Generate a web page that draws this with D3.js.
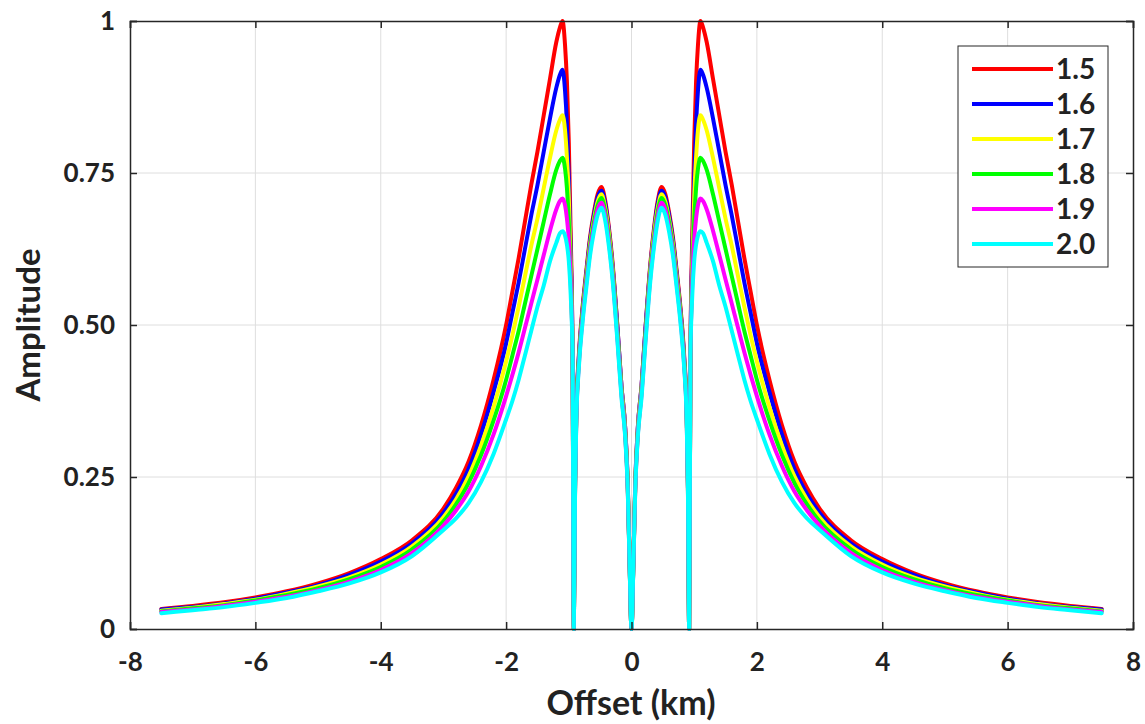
<!DOCTYPE html>
<html><head><meta charset="utf-8">
<script src="https://cdn.jsdelivr.net/npm/d3@7"></script>
<style>
html,body{margin:0;padding:0;background:#fff;}
svg text{font-family:Lato,"Open Sans",sans-serif;font-weight:bold;fill:#222;}
</style></head>
<body><svg id="chart" width="1145" height="724"></svg>
<script>
// ---- data (curves are symmetric about offset 0) ----
const seriesNames = ["1.5","1.6","1.7","1.8","1.9","2.0"];
const seriesColors = ["#ff0000","#0000ff","#ffff00","#00ff00","#ff00ff","#00ffff"];
const xTicks = [-8,-6,-4,-2,0,2,4,6,8];
const xTickLabels = ["-8","-6","-4","-2","0","2","4","6","8"];
const yTicks = [0,0.25,0.5,0.75,1];
const yTickLabels = ["0","0.25","0.50","0.75","1"];
// offsets (km) for the positive half
const offsetsHalf = [0,0.03,0.06,0.1,0.16,0.22,0.3,0.36,0.42,0.48,0.54,0.6,0.66,0.72,0.78,0.84,0.88,0.9,0.92,
  0.94,0.97,1.0,1.03,1.06,1.1,1.14,1.2,1.3,1.4,1.5,1.6,1.7,1.8,1.9,2.0,2.2,2.4,2.6,2.8,3.0,3.5,4.0,4.5,5.0,5.5,6.0,6.5,7.0,7.5];
const amp15 = [0,0.11,0.24,0.33,0.40,0.49,0.60,0.66,0.705,0.727,0.715,0.685,0.645,0.59,0.53,0.45,0.36,0.24,0,
  0.45,0.65,0.8,0.9,0.96,1.0,0.99,0.965,0.905,0.845,0.785,0.73,0.67,0.61,0.555,0.5,0.41,0.335,0.275,0.232,0.198,0.146,0.115,0.092,0.075,0.062,0.052,0.044,0.038,0.033];
const amp16 = [0,0.11,0.24,0.33,0.40,0.49,0.595,0.655,0.70,0.721,0.71,0.68,0.64,0.585,0.525,0.445,0.355,0.24,0,
  0.45,0.62,0.74,0.83,0.885,0.92,0.912,0.89,0.84,0.785,0.73,0.68,0.625,0.57,0.52,0.47,0.39,0.32,0.263,0.222,0.191,0.141,0.111,0.089,0.072,0.06,0.05,0.042,0.036,0.032];
const amp17 = [0,0.11,0.235,0.325,0.395,0.48,0.59,0.65,0.693,0.715,0.703,0.673,0.634,0.58,0.52,0.44,0.355,0.235,0,
  0.45,0.6,0.71,0.775,0.82,0.845,0.838,0.82,0.775,0.725,0.675,0.63,0.58,0.53,0.483,0.44,0.365,0.302,0.251,0.213,0.184,0.136,0.106,0.085,0.07,0.058,0.048,0.041,0.035,0.030];
const amp18 = [0,0.105,0.235,0.32,0.39,0.478,0.585,0.643,0.687,0.709,0.697,0.668,0.629,0.575,0.517,0.44,0.35,0.235,0,
  0.45,0.58,0.67,0.725,0.757,0.775,0.77,0.755,0.715,0.67,0.625,0.58,0.535,0.49,0.45,0.41,0.343,0.286,0.24,0.205,0.177,0.131,0.102,0.082,0.067,0.056,0.047,0.039,0.034,0.029];
const amp19 = [0,0.105,0.23,0.318,0.386,0.472,0.578,0.636,0.68,0.701,0.69,0.66,0.622,0.569,0.511,0.434,0.347,0.23,0,
  0.45,0.57,0.64,0.675,0.697,0.708,0.704,0.69,0.655,0.615,0.575,0.535,0.495,0.455,0.418,0.383,0.32,0.268,0.226,0.195,0.170,0.125,0.097,0.078,0.064,0.053,0.045,0.038,0.032,0.028];
const amp20 = [0,0.105,0.23,0.315,0.38,0.467,0.572,0.629,0.672,0.693,0.681,0.653,0.615,0.562,0.505,0.43,0.343,0.23,0,
  0.45,0.55,0.605,0.632,0.647,0.654,0.651,0.635,0.605,0.565,0.53,0.49,0.45,0.41,0.375,0.345,0.288,0.242,0.207,0.182,0.163,0.12,0.093,0.075,0.062,0.051,0.043,0.036,0.031,0.026];
const seriesValues = [amp15,amp16,amp17,amp18,amp19,amp20];

// ---- layout ----
const L=130,R=1133,T=21,B=629;
const svg=d3.select("#chart");
const x=d3.scaleLinear().domain([-8,8]).range([L,R]);
const y=d3.scaleLinear().domain([0,1]).range([B,T]);

// grid
const g=svg.append("g");
g.selectAll(".vg").data(xTicks.slice(1,-1)).enter().append("line")
 .attr("x1",d=>x(d)).attr("x2",d=>x(d)).attr("y1",T).attr("y2",B)
 .attr("stroke","#dedede").attr("stroke-width",1);
g.selectAll(".hg").data(yTicks.slice(1,-1)).enter().append("line")
 .attr("y1",d=>y(d)).attr("y2",d=>y(d)).attr("x1",L).attr("x2",R)
 .attr("stroke","#dedede").attr("stroke-width",1);

// curves (the half data mirrored to both sides)
function fullSeries(vals){
  const pts=[];
  for(let i=offsetsHalf.length-1;i>0;i--) pts.push([-offsetsHalf[i],vals[i]]);
  for(let i=0;i<offsetsHalf.length;i++) pts.push([offsetsHalf[i],vals[i]]);
  return pts;
}
const line=d3.line().x(d=>x(d[0])).y(d=>y(d[1])).curve(d3.curveMonotoneX);
seriesValues.forEach((vals,i)=>{
  svg.append("path").datum(fullSeries(vals)).attr("d",line)
   .attr("fill","none").attr("stroke",seriesColors[i]).attr("stroke-width",4)
   .attr("stroke-linejoin","round").attr("stroke-linecap","round");
});

// axes with inward ticks on all four sides
const axB=d3.axisBottom(x).tickValues(xTicks).tickSize(-7).tickPadding(24).tickFormat((d,i)=>xTickLabels[i]);
const axT=d3.axisTop(x).tickValues(xTicks).tickSize(-7).tickFormat("");
const axL=d3.axisLeft(y).tickValues(yTicks).tickSize(-7).tickPadding(15).tickFormat((d,i)=>yTickLabels[i]);
const axR=d3.axisRight(y).tickValues(yTicks).tickSize(-7).tickFormat("");
function style(sel){sel.select(".domain").attr("stroke","#262626").attr("stroke-width",1.5);
  sel.selectAll(".tick line").attr("stroke","#262626").attr("stroke-width",1.5);
  sel.selectAll("text").style("font-size","26px").attr("fill","#222");}
svg.append("g").attr("transform",`translate(0,${B})`).call(axB).call(style);
svg.append("g").attr("transform",`translate(0,${T})`).call(axT).call(style);
svg.append("g").attr("transform",`translate(${L},0)`).call(axL).call(style);
svg.append("g").attr("transform",`translate(${R},0)`).call(axR).call(style);

// axis titles
svg.append("text").attr("x",631).attr("y",715).attr("text-anchor","middle")
 .style("font-size","34px").text("Offset (km)");
svg.append("text").attr("transform","translate(40,325) rotate(-90)").attr("text-anchor","middle")
 .style("font-size","33px").text("Amplitude");

// legend
const lg=svg.append("g");
lg.append("rect").attr("x",958).attr("y",46).attr("width",150).attr("height",221)
 .attr("fill","#fff").attr("stroke","#262626").attr("stroke-width",1);
seriesNames.forEach((n,i)=>{
  const yy=69+i*35;
  lg.append("line").attr("x1",972).attr("x2",1053).attr("y1",yy).attr("y2",yy)
   .attr("stroke",seriesColors[i]).attr("stroke-width",4);
  lg.append("text").attr("x",1056).attr("y",yy).attr("dy","0.36em")
   .style("font-size","28px").text(n);
});
</script></body></html>
